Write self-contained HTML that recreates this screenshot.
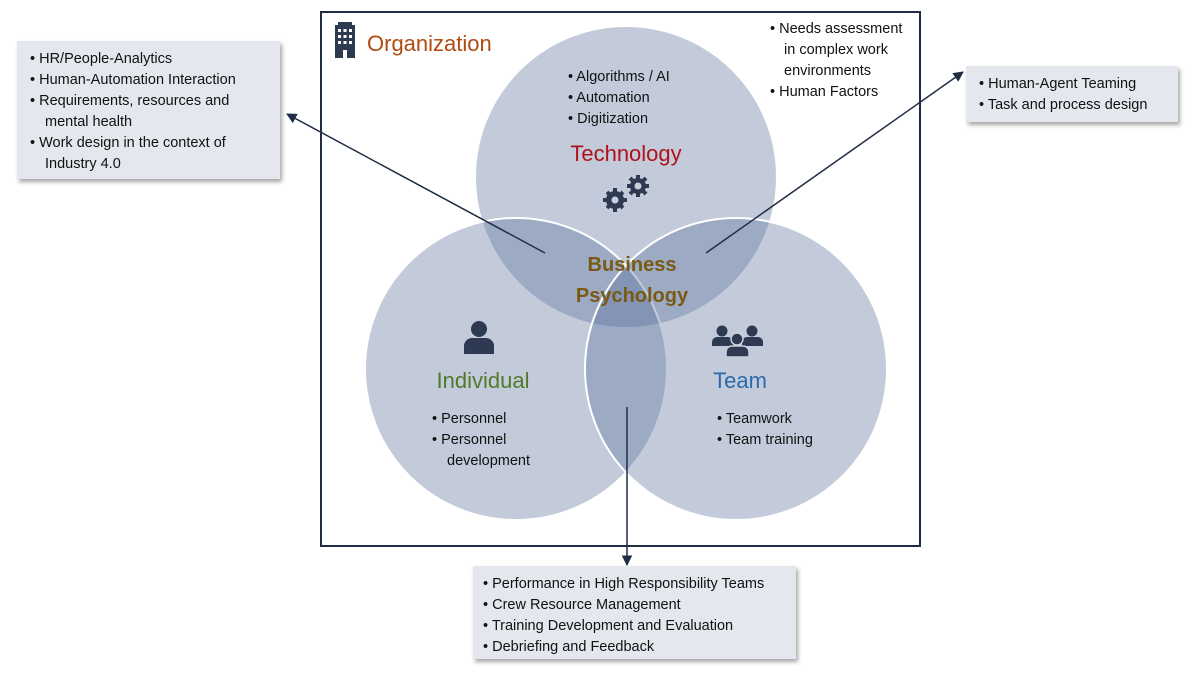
<!DOCTYPE html>
<html><head><meta charset="utf-8"><style>
html,body{margin:0;padding:0;background:#fff;}
svg{display:block;font-family:"Liberation Sans",sans-serif;}
</style></head><body>
<svg width="1200" height="676" viewBox="0 0 1200 676" xmlns="http://www.w3.org/2000/svg">
<defs>
<filter id="sh" x="-10%" y="-10%" width="130%" height="140%"><feDropShadow dx="2" dy="3" stdDeviation="2" flood-color="#000" flood-opacity="0.35"/></filter>
<marker id="ah" viewBox="0 0 10 10" refX="9" refY="5" markerWidth="7" markerHeight="7" orient="auto"><path d="M0,0 L10,5 L0,10 z" fill="#1f2d45"/></marker>
</defs>
<rect x="321" y="12" width="599" height="534" fill="#fff" stroke="#1f2d45" stroke-width="2"/>
<g fill="#5a6e9c" fill-opacity="0.36" stroke="#fff" stroke-width="2">
<circle cx="626" cy="177" r="151"/>
<circle cx="516" cy="369" r="151"/>
<circle cx="736" cy="369" r="151"/>
</g>
<!-- building icon -->
<g fill="#2e3a52"><rect x="335" y="25" width="20" height="33"/><rect x="338" y="22" width="14" height="4"/></g>
<g fill="#fff"><rect x="338" y="29" width="3" height="3"/><rect x="343.5" y="29" width="3" height="3"/><rect x="349" y="29" width="3" height="3"/><rect x="338" y="35" width="3" height="3"/><rect x="343.5" y="35" width="3" height="3"/><rect x="349" y="35" width="3" height="3"/><rect x="338" y="41" width="3" height="3"/><rect x="343.5" y="41" width="3" height="3"/><rect x="349" y="41" width="3" height="3"/><rect x="343" y="50" width="4" height="8"/></g>
<text x="367" y="51" font-size="22" fill="#b24a12">Organization</text>
<g font-size="14.5" fill="#111">
<text x="770" y="33">•  Needs assessment</text><text x="784" y="54">in complex work</text><text x="784" y="75">environments</text><text x="770" y="96">•  Human Factors</text>
<text x="568" y="81">•  Algorithms / AI</text><text x="568" y="102">•  Automation</text><text x="568" y="123">•  Digitization</text>
<text x="432" y="423">•  Personnel</text><text x="432" y="444">•  Personnel</text><text x="447" y="465">development</text>
<text x="717" y="423">•  Teamwork</text><text x="717" y="444">•  Team training</text>
</g>
<text x="626" y="161" font-size="22" fill="#b0121b" text-anchor="middle">Technology</text>
<text x="483" y="388" font-size="22" fill="#4f7a2a" text-anchor="middle">Individual</text>
<text x="740" y="388" font-size="22" fill="#2b6aa8" text-anchor="middle">Team</text>
<text x="632" y="271" font-size="20" font-weight="bold" fill="#7a5a12" text-anchor="middle">Business</text>
<text x="632" y="302" font-size="20" font-weight="bold" fill="#7a5a12" text-anchor="middle">Psychology</text>
<!-- gears -->
<g fill="#2e3a52">
<circle cx="615" cy="200" r="9"/><circle cx="638" cy="186" r="8"/>
<g stroke="#2e3a52" stroke-width="4"><line x1="615" y1="188" x2="615" y2="212"/><line x1="603" y1="200" x2="627" y2="200"/><line x1="607" y1="192" x2="623" y2="208"/><line x1="607" y1="208" x2="623" y2="192"/><line x1="638" y1="175" x2="638" y2="197"/><line x1="627" y1="186" x2="649" y2="186"/><line x1="630" y1="178" x2="646" y2="194"/><line x1="630" y1="194" x2="646" y2="178"/></g>
</g>
<circle cx="615" cy="200" r="3.5" fill="#c8cfdd"/><circle cx="638" cy="186" r="3.5" fill="#c8cfdd"/>
<!-- person -->
<g fill="#2e3a52"><circle cx="479" cy="329" r="8"/><path d="M464,354 v-8 a8,8 0 0 1 8,-8 h14 a8,8 0 0 1 8,8 v8 z"/></g>
<!-- team -->
<g fill="#2e3a52"><circle cx="722" cy="331" r="5.5"/><circle cx="752" cy="331" r="5.5"/><path d="M712,346 v-4 a5,5 0 0 1 5,-5 h11 a5,5 0 0 1 5,5 v4 z"/><path d="M742,346 v-4 a5,5 0 0 1 5,-5 h11 a5,5 0 0 1 5,5 v4 z"/><circle cx="737" cy="339" r="6" stroke="#c8cfdd" stroke-width="1.5"/><path d="M726,357 v-5 a6,6 0 0 1 6,-6 h11 a6,6 0 0 1 6,6 v5 z" stroke="#c8cfdd" stroke-width="1.5"/></g>
<!-- arrows -->
<g stroke="#1f2d45" stroke-width="1.5" fill="none" marker-end="url(#ah)">
<line x1="545" y1="253" x2="287" y2="114"/>
<line x1="706" y1="253" x2="963" y2="72"/>
<line x1="627" y1="407" x2="627" y2="565"/>
</g>
<!-- boxes -->
<rect x="17" y="41" width="263" height="138" fill="#e4e7ee" filter="url(#sh)"/>
<rect x="966" y="66" width="212" height="56" fill="#e4e7ee" filter="url(#sh)"/>
<rect x="473" y="566" width="323" height="93" fill="#e4e7ee" filter="url(#sh)"/>
<g font-size="14.5" fill="#111">
<text x="30" y="63">•  HR/People-Analytics</text><text x="30" y="84">•  Human-Automation Interaction</text><text x="30" y="105">•  Requirements, resources and</text><text x="45" y="126">mental health</text><text x="30" y="147">•  Work design in the context of</text><text x="45" y="168">Industry 4.0</text>
<text x="979" y="88">•  Human-Agent Teaming</text><text x="979" y="109">•  Task and process design</text>
<text x="483" y="588">•  Performance in High Responsibility Teams</text><text x="483" y="609">•  Crew Resource Management</text><text x="483" y="630">•  Training Development and Evaluation</text><text x="483" y="651">•  Debriefing and Feedback</text>
</g>
</svg>
</body></html>
